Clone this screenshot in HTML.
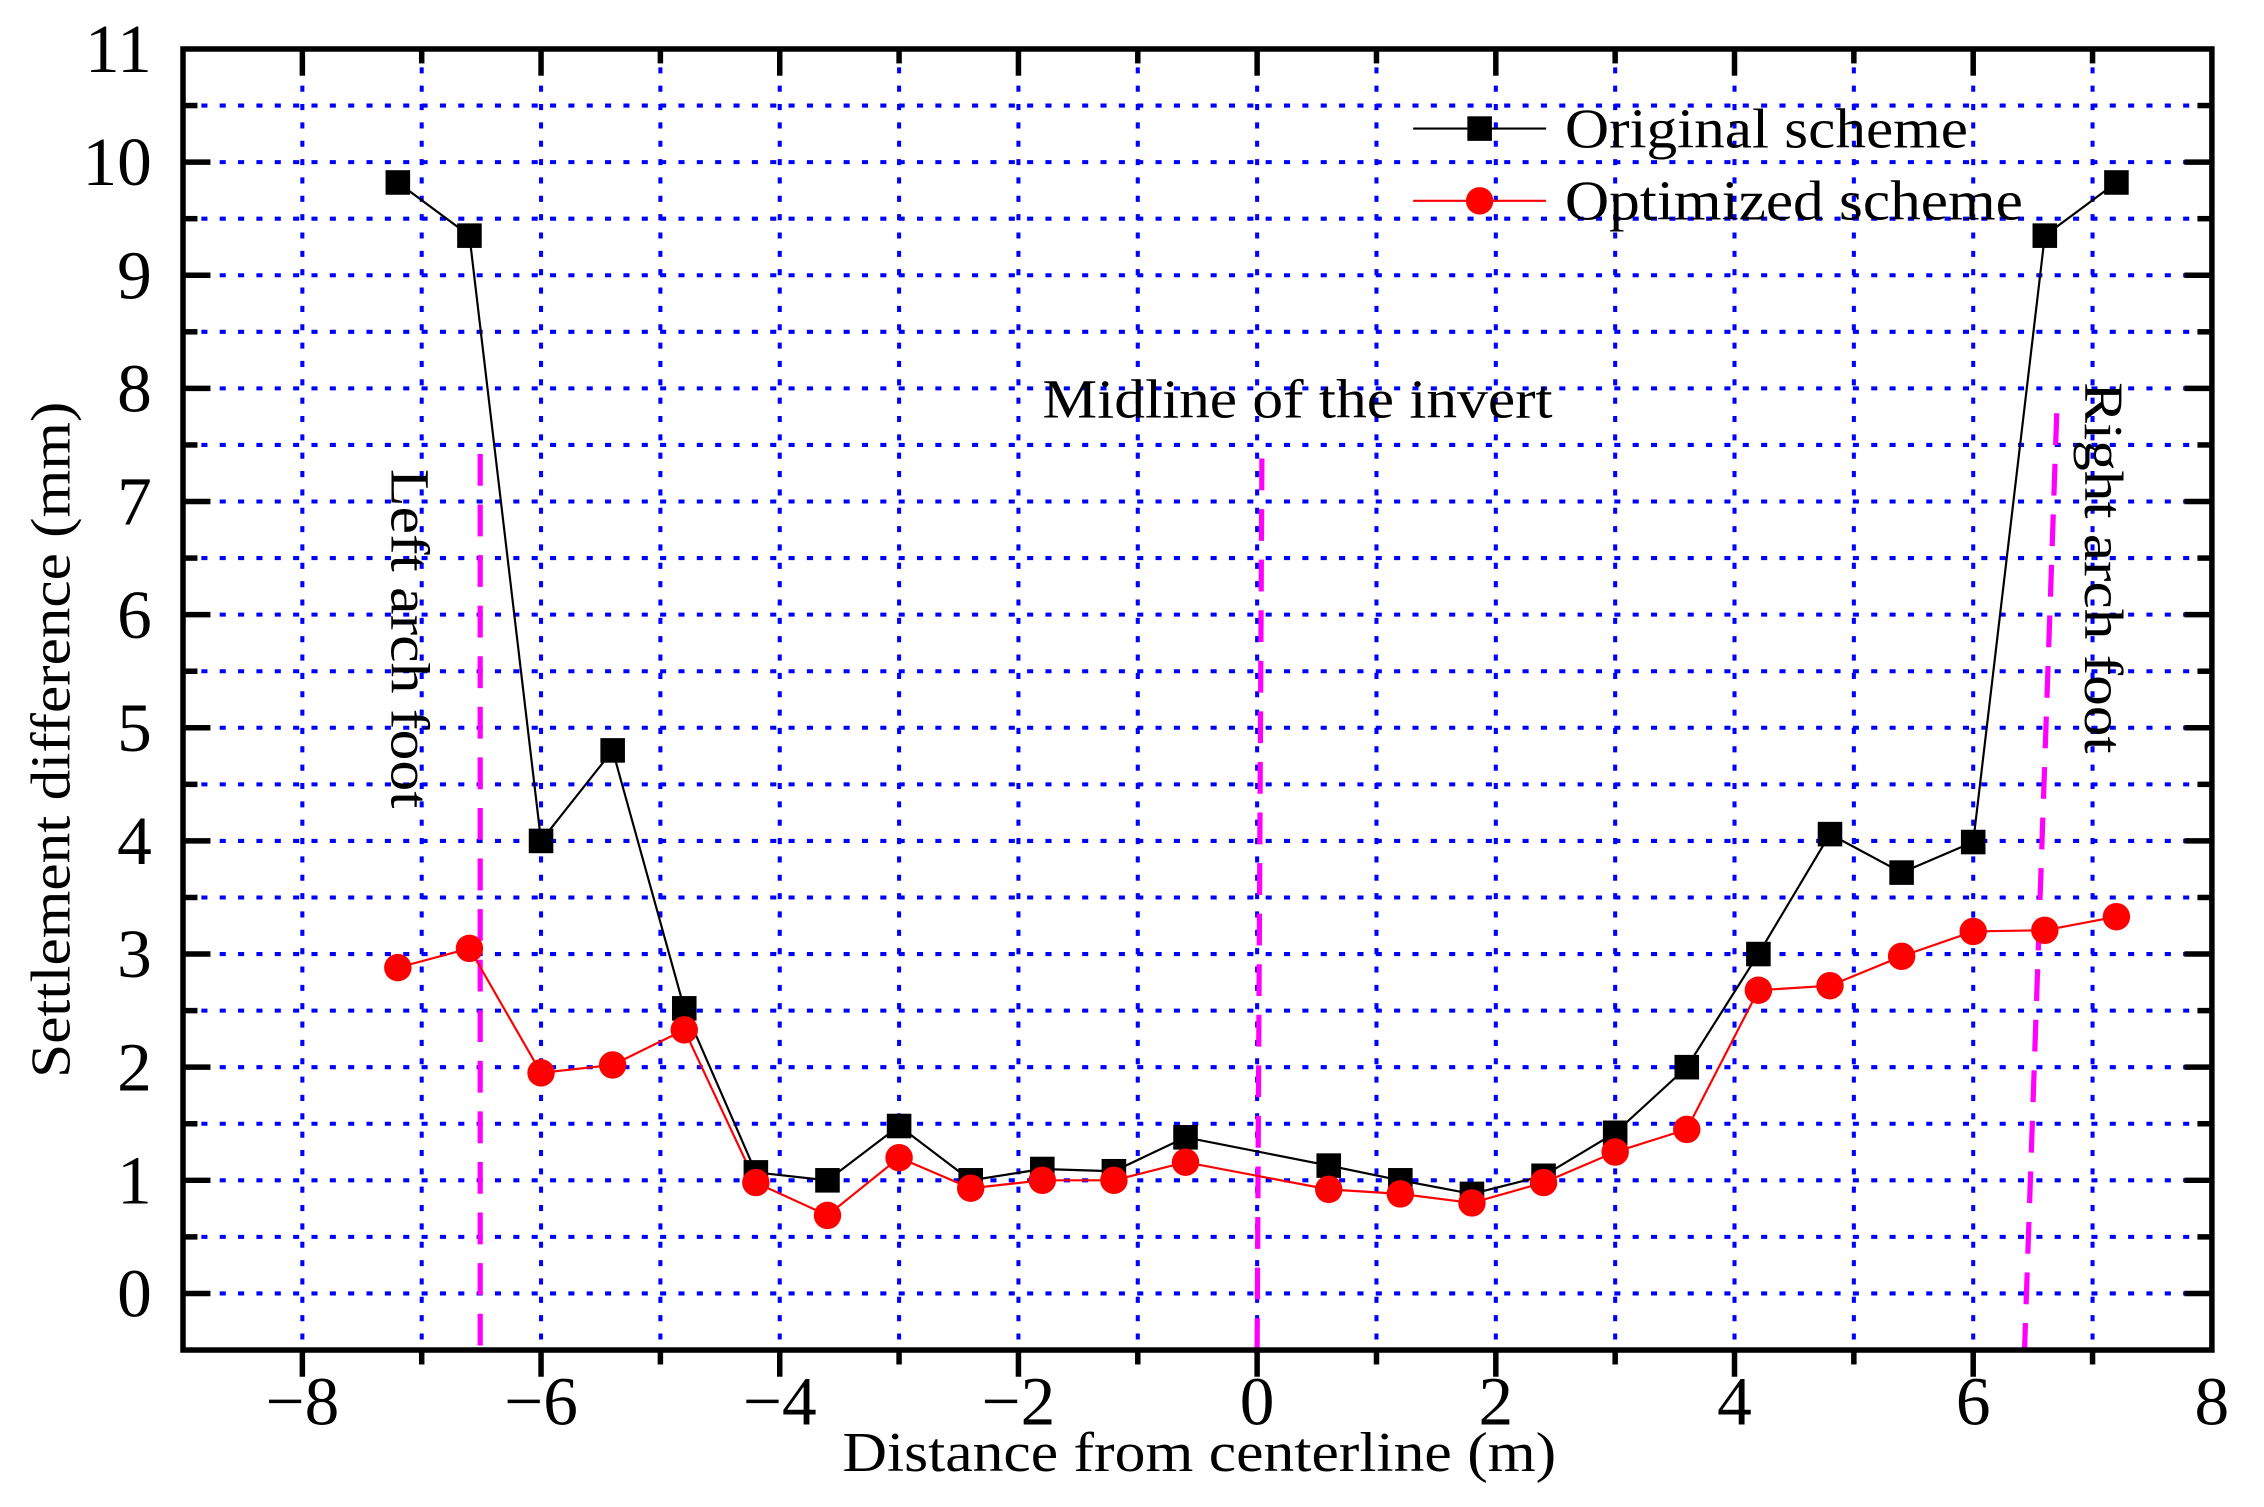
<!DOCTYPE html>
<html><head><meta charset="utf-8"><style>html,body{margin:0;padding:0;background:#fff}svg{display:block;font-family:"Liberation Serif","Times New Roman",serif}text{font-family:"Liberation Serif","Times New Roman",serif}</style></head>
<body>
<svg xmlns="http://www.w3.org/2000/svg" width="2264" height="1507" viewBox="0 0 1566.8 1043">
<rect width="1566.8" height="1043" fill="#fff"/>
<g id="grid" stroke="#0000ff" stroke-width="2.8" stroke-dasharray="4.2 8.5" stroke-linecap="butt"></g>
<g id="mag" stroke="#ff00ff" stroke-width="3.6" stroke-dasharray="22 13" fill="none"></g>
<g id="series"></g>
<g id="axes" stroke="#000" stroke-width="3.8" fill="none"></g>
<g id="labels" font-size="48" fill="#000"></g>
<text x="898" y="289" font-size="38" text-anchor="middle" textLength="353" lengthAdjust="spacingAndGlyphs">Midline of the invert</text>
<text transform="translate(271,442) rotate(90)" font-size="38" text-anchor="middle" textLength="235" lengthAdjust="spacingAndGlyphs">Left arch foot</text>
<text transform="translate(1443,393) rotate(90)" font-size="38" text-anchor="middle" textLength="257" lengthAdjust="spacingAndGlyphs">Right arch foot</text>
<text x="830" y="1018" font-size="39" text-anchor="middle" textLength="494" lengthAdjust="spacingAndGlyphs">Distance from centerline (m)</text>
<text transform="translate(48,512) rotate(-90)" font-size="39" text-anchor="middle" textLength="468" lengthAdjust="spacingAndGlyphs">Settlement difference (mm)</text>
<line x1="978" y1="89" x2="1070" y2="89" stroke="#000" stroke-width="1.5"/>
<rect x="1015.5" y="80.5" width="17" height="17" fill="#000"/>
<text x="1083" y="102" font-size="39" textLength="279" lengthAdjust="spacingAndGlyphs">Original scheme</text>
<line x1="978" y1="139" x2="1070" y2="139" stroke="#ff0000" stroke-width="1.5"/>
<circle cx="1024" cy="139" r="9.5" fill="#ff0000"/>
<text x="1083" y="152" font-size="39" textLength="317" lengthAdjust="spacingAndGlyphs">Optimized scheme</text>
<script>
(function(){
var NS="http://www.w3.org/2000/svg";
function X(v){return 126.6+(v+9)*82.6;}
function Y(v){return 33.9+(11-v)*78.3;}
function el(p,t,a){var e=document.createElementNS(NS,t);for(var k in a)e.setAttribute(k,a[k]);p.appendChild(e);return e;}
var L=X(-9),R=X(8),T=Y(11),B=Y(-0.5);
var g=document.getElementById('grid');
for(var i=-8;i<=7;i++)el(g,'line',{x1:X(i),x2:X(i),y1:T,y2:B});
for(var v=0;v<=10.5;v+=0.5)el(g,'line',{x1:L,x2:R,y1:Y(v),y2:Y(v)});
var m=document.getElementById('mag');
el(m,'line',{x1:X(-6.51),y1:Y(7.42),x2:X(-6.51),y2:B});
el(m,'line',{x1:X(0.04),y1:Y(7.38),x2:X(0.0),y2:B});
el(m,'line',{x1:X(6.70),y1:Y(7.78),x2:X(6.43),y2:B});
var xs=[-7.2,-6.6,-6,-5.4,-4.8,-4.2,-3.6,-3,-2.4,-1.8,-1.2,-0.6,0.6,1.2,1.8,2.4,3,3.6,4.2,4.8,5.4,6,6.6,7.2];
var o=[9.82,9.35,4.0,4.8,2.52,1.07,1.0,1.48,1.0,1.1,1.08,1.38,1.13,1.0,0.88,1.04,1.42,2.0,3.0,4.06,3.72,3.99,9.35,9.82];
var p=[2.88,3.05,1.95,2.02,2.33,0.98,0.69,1.2,0.93,1.0,1.0,1.16,0.92,0.88,0.8,0.98,1.25,1.45,2.68,2.72,2.98,3.2,3.21,3.33];
var s=document.getElementById('series');
function pts(a){return xs.map(function(x,i){return X(x)+','+Y(a[i]);}).join(' ');}
el(s,'polyline',{points:pts(o),fill:'none',stroke:'#000','stroke-width':1.5});
el(s,'polyline',{points:pts(p),fill:'none',stroke:'#ff0000','stroke-width':1.5});
xs.forEach(function(x,i){el(s,'rect',{x:X(x)-8.5,y:Y(o[i])-8.5,width:17,height:17,fill:'#000'});});
xs.forEach(function(x,i){el(s,'circle',{cx:X(x),cy:Y(p[i]),r:9.5,fill:'#ff0000'});});
var a=document.getElementById('axes');
el(a,'rect',{x:L,y:T,width:R-L,height:B-T});
for(var i=-8;i<=7;i++){var mj=(i%2===0);var len=mj?18.5:10;
 el(a,'line',{x1:X(i),x2:X(i),y1:B,y2:B+len});
 el(a,'line',{x1:X(i),x2:X(i),y1:T,y2:T+len});}
for(var v=0;v<=10.5;v+=0.5){var mj=(v%1===0);var len=mj?19:10;
 el(a,'line',{x1:L,x2:L+len,y1:Y(v),y2:Y(v)});
 el(a,'line',{x1:R,x2:R-len,y1:Y(v),y2:Y(v)});}
var lb=document.getElementById('labels');
for(var i=-8;i<=8;i+=2){var t=el(lb,'text',{x:X(i),y:986,'text-anchor':'middle'});t.textContent=(i<0?'\u2212':'')+Math.abs(i);}
for(var v=0;v<=11;v++){var t=el(lb,'text',{x:105,y:Y(v)+16,'text-anchor':'end'});t.textContent=v;}
})();
</script>
</svg>
</body></html>
